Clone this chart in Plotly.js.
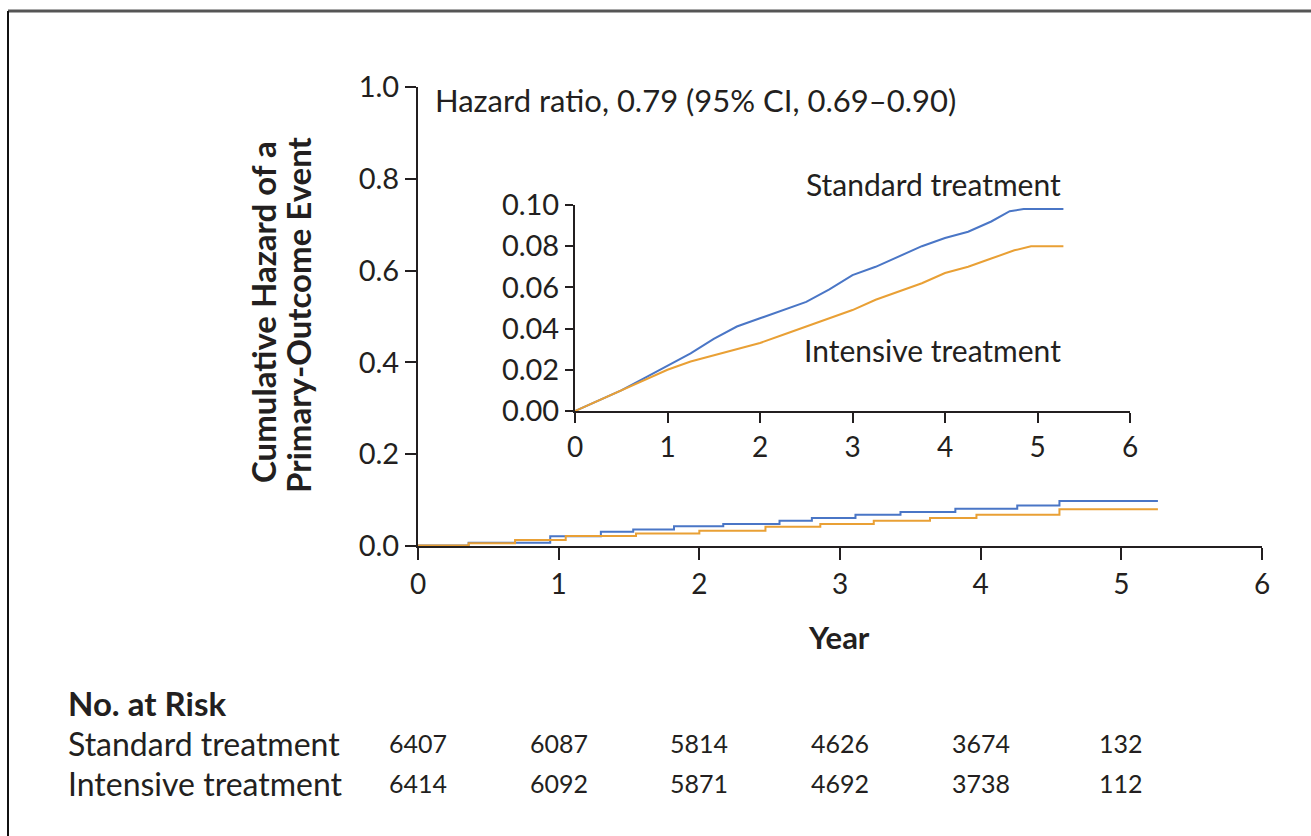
<!DOCTYPE html>
<html>
<head>
<meta charset="utf-8">
<script src="https://cdn.plot.ly/plotly-3.0.1.min.js"></script>
<style>html,body{margin:0;padding:0;background:#fff;}#chart{width:1311px;height:836px;}</style>
</head>
<body>
<div id="chart"></div>
<script>
// Main panel (stepped, coarse) data
var mainStdYears = [0, 0.36, 0.94, 1.3, 1.53, 1.82, 2.17, 2.57, 2.8, 3.11, 3.43, 3.82, 4.26, 4.56, 5.26];
var mainStdHazard = [0.001, 0.007, 0.021, 0.031, 0.036, 0.043, 0.048, 0.055, 0.061, 0.068, 0.074, 0.081, 0.088, 0.098, 0.098];
var mainIntYears = [0, 0.36, 0.69, 1.05, 1.55, 2.0, 2.47, 2.86, 3.24, 3.64, 3.97, 4.56, 5.26];
var mainIntHazard = [0.001, 0.006, 0.013, 0.022, 0.027, 0.033, 0.042, 0.048, 0.055, 0.061, 0.068, 0.080, 0.080];

// Inset (zoomed) data
var insetStdYears = [0, 0.25, 0.5, 0.75, 1.0, 1.25, 1.5, 1.75, 2.0, 2.25, 2.5, 2.75, 3.0, 3.25, 3.5, 3.75, 4.0, 4.25, 4.5, 4.7, 4.85, 5.28];
var insetStdHazard = [0, 0.005, 0.010, 0.016, 0.022, 0.028, 0.035, 0.041, 0.045, 0.049, 0.053, 0.059, 0.066, 0.070, 0.075, 0.080, 0.084, 0.087, 0.092, 0.097, 0.098, 0.098];
var insetIntYears = [0, 0.25, 0.5, 0.75, 1.0, 1.25, 1.5, 1.75, 2.0, 2.25, 2.5, 2.75, 3.0, 3.25, 3.5, 3.75, 4.0, 4.25, 4.5, 4.75, 4.93, 5.28];
var insetIntHazard = [0, 0.005, 0.010, 0.015, 0.020, 0.024, 0.027, 0.030, 0.033, 0.037, 0.041, 0.045, 0.049, 0.054, 0.058, 0.062, 0.067, 0.070, 0.074, 0.078, 0.080, 0.080];

// Axis ticks
var mainXTicks = [0, 1, 2, 3, 4, 5, 6];
var mainYTicks = [0, 0.2, 0.4, 0.6, 0.8, 1.0];
var mainYTickText = ['0.0', '0.2', '0.4', '0.6', '0.8', '1.0'];
var insetYTicks = [0, 0.02, 0.04, 0.06, 0.08, 0.10];
var insetYTickText = ['0.00', '0.02', '0.04', '0.06', '0.08', '0.10'];

// Number at risk
var riskYears = [0, 1, 2, 3, 4, 5];
var riskStandard = [6407, 6087, 5814, 4626, 3674, 132];
var riskIntensive = [6414, 6092, 5871, 4692, 3738, 112];
var groupNames = ['Standard treatment', 'Intensive treatment'];

var blue = '#4a76c6';
var orange = '#e9a035';
var ink = '#231f20';
var FONT = 'Lato, "Open Sans", sans-serif';

var traces = [
  {x: mainStdYears, y: mainStdHazard, mode: 'lines', line: {color: blue, width: 2, shape: 'hv'}, xaxis: 'x', yaxis: 'y', showlegend: false, hoverinfo: 'skip'},
  {x: mainIntYears, y: mainIntHazard, mode: 'lines', line: {color: orange, width: 2, shape: 'hv'}, xaxis: 'x', yaxis: 'y', showlegend: false, hoverinfo: 'skip'},
  {x: insetStdYears, y: insetStdHazard, mode: 'lines', line: {color: blue, width: 2}, xaxis: 'x2', yaxis: 'y2', showlegend: false, hoverinfo: 'skip'},
  {x: insetIntYears, y: insetIntHazard, mode: 'lines', line: {color: orange, width: 2}, xaxis: 'x2', yaxis: 'y2', showlegend: false, hoverinfo: 'skip'}
];

var axisCommon = {
  showgrid: false, zeroline: false, showline: true, linecolor: ink, linewidth: 2,
  ticks: 'outside', tickcolor: ink, tickwidth: 2, fixedrange: true
};

function px2x(p) { return (p - 418) / 844; }
function px2y(p) { return (546 - p) / 459; }

var annotations = [
  {text: 'Hazard ratio, 0.79 (95% CI, 0.69–0.90)', xref: 'paper', yref: 'paper', x: px2x(433), y: px2y(100), xanchor: 'left', yanchor: 'middle', showarrow: false, font: {family: FONT, size: 31, color: ink}},
  {text: '<b>Cumulative Hazard of a</b>', xref: 'paper', yref: 'paper', x: px2x(263), y: px2y(312), xanchor: 'center', yanchor: 'middle', textangle: -90, showarrow: false, font: {family: FONT, size: 33, color: ink}},
  {text: '<b>Primary-Outcome Event</b>', xref: 'paper', yref: 'paper', x: px2x(298), y: px2y(315), xanchor: 'center', yanchor: 'middle', textangle: -90, showarrow: false, font: {family: FONT, size: 33, color: ink}},
  {text: '<b>Year</b>', xref: 'paper', yref: 'paper', x: px2x(839), y: px2y(637), xanchor: 'center', yanchor: 'middle', showarrow: false, font: {family: FONT, size: 31, color: ink}},
  {text: groupNames[0], xref: 'paper', yref: 'paper', x: px2x(1063), y: px2y(184), xanchor: 'right', yanchor: 'middle', showarrow: false, font: {family: FONT, size: 30, color: ink}},
  {text: groupNames[1], xref: 'paper', yref: 'paper', x: px2x(1063), y: px2y(350), xanchor: 'right', yanchor: 'middle', showarrow: false, font: {family: FONT, size: 30, color: ink}},
  {text: '<b>No. at Risk</b>', xref: 'paper', yref: 'paper', x: px2x(66), y: px2y(703), xanchor: 'left', yanchor: 'middle', showarrow: false, font: {family: FONT, size: 33, color: ink}},
  {text: groupNames[0], xref: 'paper', yref: 'paper', x: px2x(66), y: px2y(743), xanchor: 'left', yanchor: 'middle', showarrow: false, font: {family: FONT, size: 32, color: ink}},
  {text: groupNames[1], xref: 'paper', yref: 'paper', x: px2x(66), y: px2y(783), xanchor: 'left', yanchor: 'middle', showarrow: false, font: {family: FONT, size: 32, color: ink}}
];
riskYears.forEach(function (yr, i) {
  annotations.push({text: String(riskStandard[i]), xref: 'x', yref: 'paper', x: yr, y: px2y(743), xanchor: 'center', yanchor: 'middle', showarrow: false, font: {family: FONT, size: 25, color: ink}});
  annotations.push({text: String(riskIntensive[i]), xref: 'x', yref: 'paper', x: yr, y: px2y(783), xanchor: 'center', yanchor: 'middle', showarrow: false, font: {family: FONT, size: 25, color: ink}});
});

var layout = {
  width: 1311, height: 836,
  margin: {l: 418, r: 49, t: 87, b: 290},
  paper_bgcolor: '#ffffff', plot_bgcolor: 'rgba(0,0,0,0)',
  font: {family: FONT, color: ink},
  xaxis: Object.assign({}, axisCommon, {range: [0, 6], tickvals: mainXTicks, ticklen: 12, tickfont: {family: FONT, size: 28, color: ink}, domain: [0, 1]}),
  yaxis: Object.assign({}, axisCommon, {range: [0, 1], tickvals: mainYTicks, ticktext: mainYTickText, ticklen: 11, tickfont: {family: FONT, size: 29, color: ink}, domain: [0, 1]}),
  xaxis2: Object.assign({}, axisCommon, {anchor: 'y2', range: [0, 6], tickvals: mainXTicks, ticklen: 10, tickfont: {family: FONT, size: 28, color: ink}, domain: [px2x(575), px2x(1130)]}),
  yaxis2: Object.assign({}, axisCommon, {anchor: 'x2', range: [0, 0.1], tickvals: insetYTicks, ticktext: insetYTickText, ticklen: 8, tickfont: {family: FONT, size: 29, color: ink}, domain: [px2y(411), px2y(205)]}),
  annotations: annotations,
  shapes: [
    {type: 'line', xref: 'paper', yref: 'paper', x0: px2x(8), x1: px2x(1311), y0: px2y(11), y1: px2y(11), line: {color: '#555555', width: 3}},
    {type: 'line', xref: 'paper', yref: 'paper', x0: px2x(8), x1: px2x(8), y0: px2y(11), y1: px2y(836), line: {color: '#111111', width: 2}}
  ],
  showlegend: false
};

Plotly.newPlot('chart', traces, layout, {displayModeBar: false, staticPlot: true});
</script>
</body>
</html>
